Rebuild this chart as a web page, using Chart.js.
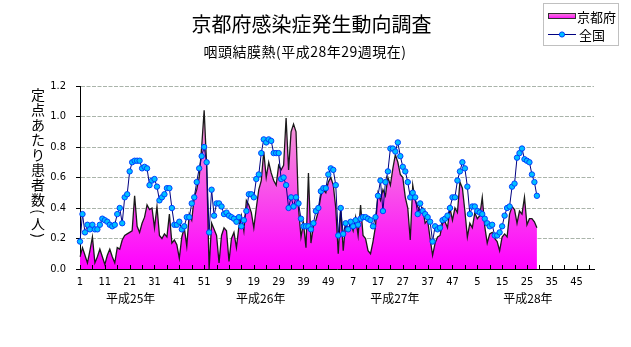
<!DOCTYPE html>
<html lang="ja">
<head>
<meta charset="utf-8">
<title>京都府感染症発生動向調査</title>
<script src="https://cdn.jsdelivr.net/npm/chart.js@4.4.0/dist/chart.umd.min.js"></script>
<style>
  html, body { margin: 0; padding: 0; background: #fff; }
  #wrap { width: 631px; height: 347px; }
</style>
</head>
<body>
<div id="wrap"><canvas id="chart" width="631" height="347"></canvas></div>
<script>
// Axis: four years of 52 weeks each (H25 - H28)
const years = ['平成25年', '平成26年', '平成27年', '平成28年'];
const weeksPerYear = 52;

// Kyoto prefecture, cases per sentinel site (area)
const kyoto2013 = [0.08, 0.14, 0.09, 0.04, 0.12, 0.21, 0.04, 0.08, 0.13, 0.08,
  0.03, 0.09, 0.13, 0.08, 0.04, 0.14, 0.13, 0.19, 0.22, 0.23,
  0.24, 0.25, 0.48, 0.28, 0.24, 0.30, 0.34, 0.42, 0.39, 0.40,
  0.27, 0.41, 0.22, 0.20, 0.23, 0.21, 0.36, 0.17, 0.19, 0.16,
  0.07, 0.21, 0.27, 0.15, 0.36, 0.32, 0.47, 0.52, 0.60, 0.80,
  1.04, 0.68];
const kyoto2014 = [0.00, 0.30, 0.26, 0.22, 0.04, 0.22, 0.27, 0.25, 0.05, 0.20,
  0.24, 0.14, 0.28, 0.35, 0.25, 0.45, 0.42, 0.37, 0.27, 0.40,
  0.52, 0.58, 0.77, 0.60, 0.70, 0.63, 0.58, 0.55, 0.68, 0.65,
  0.68, 0.99, 0.65, 0.90, 0.95, 0.90, 0.40, 0.21, 0.30, 0.14,
  0.63, 0.17, 0.28, 0.32, 0.38, 0.48, 0.52, 0.50, 0.57, 0.60,
  0.55, 0.40];
const kyoto2015 = [0.10, 0.40, 0.12, 0.30, 0.26, 0.30, 0.25, 0.34, 0.22, 0.42,
  0.22, 0.20, 0.12, 0.10, 0.18, 0.28, 0.50, 0.45, 0.52, 0.48,
  0.60, 0.55, 0.66, 0.75, 0.70, 0.62, 0.60, 0.47, 0.40, 0.19,
  0.55, 0.45, 0.41, 0.38, 0.40, 0.30, 0.32, 0.20, 0.09, 0.17,
  0.21, 0.22, 0.30, 0.31, 0.27, 0.40, 0.32, 0.40, 0.37, 0.57,
  0.53, 0.38];
const kyoto2016 = [0.21, 0.30, 0.27, 0.37, 0.33, 0.35, 0.47, 0.28, 0.17, 0.23,
  0.24, 0.20, 0.18, 0.12, 0.21, 0.23, 0.21, 0.36, 0.41, 0.39,
  0.30, 0.38, 0.36, 0.47, 0.29, 0.33, 0.33, 0.31, 0.27];

// Whole country (line with markers)
const national2013 = [0.18, 0.36, 0.24, 0.29, 0.26, 0.29, 0.26, 0.26, 0.29, 0.33,
  0.32, 0.31, 0.29, 0.28, 0.29, 0.36, 0.40, 0.30, 0.47, 0.49,
  0.64, 0.70, 0.71, 0.71, 0.71, 0.66, 0.67, 0.66, 0.55, 0.58,
  0.59, 0.54, 0.45, 0.47, 0.49, 0.53, 0.53, 0.40, 0.29, 0.29,
  0.31, 0.26, 0.28, 0.34, 0.34, 0.43, 0.47, 0.57, 0.66, 0.74,
  0.80, 0.70];
const national2014 = [0.24, 0.52, 0.35, 0.43, 0.43, 0.41, 0.36, 0.37, 0.35, 0.34,
  0.33, 0.31, 0.34, 0.28, 0.32, 0.38, 0.49, 0.49, 0.47, 0.59,
  0.62, 0.76, 0.85, 0.83, 0.85, 0.84, 0.76, 0.76, 0.76, 0.59,
  0.60, 0.55, 0.40, 0.47, 0.41, 0.47, 0.43, 0.33, 0.28, 0.28,
  0.28, 0.26, 0.30, 0.38, 0.40, 0.51, 0.53, 0.53, 0.62, 0.66,
  0.65, 0.55];
const national2015 = [0.22, 0.40, 0.23, 0.30, 0.26, 0.31, 0.28, 0.32, 0.29, 0.33,
  0.34, 0.34, 0.33, 0.32, 0.28, 0.34, 0.48, 0.58, 0.38, 0.57,
  0.64, 0.79, 0.79, 0.77, 0.83, 0.74, 0.67, 0.64, 0.57, 0.47,
  0.50, 0.47, 0.36, 0.43, 0.38, 0.36, 0.34, 0.31, 0.18, 0.28,
  0.26, 0.27, 0.32, 0.33, 0.35, 0.40, 0.47, 0.47, 0.58, 0.64,
  0.70, 0.66];
const national2016 = [0.54, 0.36, 0.41, 0.41, 0.38, 0.37, 0.36, 0.33, 0.30, 0.28,
  0.29, 0.22, 0.22, 0.24, 0.28, 0.35, 0.40, 0.41, 0.54, 0.56,
  0.73, 0.76, 0.79, 0.72, 0.71, 0.70, 0.62, 0.57, 0.48];

const yTicks = [0, 0.2, 0.4, 0.6, 0.8, 1.0, 1.2];

const kyoto = [...kyoto2013, ...kyoto2014, ...kyoto2015, ...kyoto2016];
const national = [...national2013, ...national2014, ...national2015, ...national2016];

// week number labels: 1..52 per year
const weekLabels = [];
years.forEach(() => {
  for (let w = 1; w <= weeksPerYear; w++) weekLabels.push(String(w));
});

const JP_FONT = '"Noto Sans CJK JP", "Noto Sans", sans-serif';
const NUM_FONT = '"Liberation Sans Narrow", "DejaVu Sans Condensed", "Liberation Sans", sans-serif';

// where the year names sit under the axis (category index)
const yearLabelAt = [20.4, 72.8, 126.8, 180.4];

const decor = {
  id: 'decor',
  afterDatasetsDraw(chart) {
    // small tick marks pointing into the plot, every 5 weeks
    const { ctx, chartArea } = chart;
    const x = chart.scales.x;
    ctx.save();
    ctx.strokeStyle = '#000';
    ctx.lineWidth = 1;
    ctx.beginPath();
    for (let i = 0; i < weekLabels.length; i += 5) {
      const px = Math.round(x.getPixelForValue(i)) + 0.5;
      ctx.moveTo(px, chartArea.bottom);
      ctx.lineTo(px, chartArea.bottom - 4);
    }
    ctx.stroke();
    ctx.restore();
  },
  afterDraw(chart) {
    const { ctx } = chart;
    const x = chart.scales.x;
    ctx.save();
    ctx.fillStyle = '#000';
    ctx.textAlign = 'center';
    ctx.textBaseline = 'middle';

    // title + subtitle
    ctx.font = '20px ' + JP_FONT;
    ctx.fillText('京都府感染症発生動向調査', 311.5, 24);
    ctx.font = '14px ' + JP_FONT;
    if ('letterSpacing' in ctx) ctx.letterSpacing = '0.5px';
    ctx.fillText('咽頭結膜熱(平成28年29週現在)', 305, 52);
    if ('letterSpacing' in ctx) ctx.letterSpacing = '0px';

    // year names under the week numbers
    ctx.font = '12px ' + JP_FONT;
    years.forEach((name, k) => {
      ctx.fillText(name, x.getPixelForValue(yearLabelAt[k]), 298);
    });

    // vertical y axis title, upright characters
    ctx.font = '14px ' + JP_FONT;
    let cur = 87;
    for (const ch of '定点あたり患者数(人)') {
      const paren = ch === '(' || ch === ')';
      const h = paren ? 9 : 15;
      const cy = cur + h / 2;
      if (paren) {
        ctx.save();
        ctx.translate(38, cy);
        ctx.rotate(Math.PI / 2);
        ctx.fillText(ch, 0, 0);
        ctx.restore();
      } else {
        ctx.fillText(ch, 38, cy);
      }
      cur += h;
    }

    // legend box
    ctx.strokeStyle = '#808080';
    ctx.lineWidth = 1;
    ctx.setLineDash([1, 1]);
    ctx.strokeRect(543.5, 3.5, 75, 42);
    ctx.setLineDash([]);

    const sw = ctx.createLinearGradient(0, 13, 0, 19);
    sw.addColorStop(0, '#f590d8');
    sw.addColorStop(1, '#ff00ff');
    ctx.fillStyle = sw;
    ctx.fillRect(548, 13, 28, 6);
    ctx.strokeStyle = '#303030';
    ctx.strokeRect(548.5, 13.5, 27, 5);

    ctx.strokeStyle = '#000080';
    ctx.beginPath();
    ctx.moveTo(548, 34.5);
    ctx.lineTo(576, 34.5);
    ctx.stroke();
    ctx.beginPath();
    ctx.arc(562, 34.5, 2.6, 0, Math.PI * 2);
    ctx.fillStyle = '#00c0ff';
    ctx.fill();
    ctx.strokeStyle = '#0040ff';
    ctx.stroke();

    ctx.fillStyle = '#000';
    ctx.textAlign = 'left';
    ctx.font = '13px ' + JP_FONT;
    ctx.fillText('京都府', 577, 17);
    ctx.fillText('全国', 579, 35);
    ctx.restore();
  }
};

function areaFill(context) {
  const { chart } = context;
  const area = chart.chartArea;
  if (!area) return '#ff00ff';
  const top = chart.scales.y.getPixelForValue(Math.max(...kyoto));
  const g = chart.ctx.createLinearGradient(0, top, 0, area.bottom);
  g.addColorStop(0, '#f2a4d4');
  g.addColorStop(1, '#ff00ff');
  return g;
}

new Chart(document.getElementById('chart'), {
  type: 'line',
  data: {
    labels: weekLabels,
    datasets: [
      {
        label: '全国',
        data: national,
        borderColor: '#000080',
        borderWidth: 1,
        pointRadius: 2.7,
        pointBackgroundColor: '#00c0ff',
        pointBorderColor: '#0040ff',
        pointBorderWidth: 1,
        fill: false,
        tension: 0,
        order: 1
      },
      {
        label: '京都府',
        data: kyoto,
        borderColor: '#1a1a1a',
        borderWidth: 1.3,
        pointRadius: 0,
        fill: 'origin',
        backgroundColor: areaFill,
        tension: 0,
        order: 2
      }
    ]
  },
  options: {
    responsive: false,
    animation: false,
    events: [],
    layout: { padding: { left: 0, right: 37, top: 86, bottom: 0 } },
    plugins: {
      legend: { display: false },
      tooltip: { enabled: false },
      title: { display: false }
    },
    scales: {
      x: {
        type: 'category',
        afterFit(scale) { scale.height = 78; },
        grid: { display: false, drawTicks: false },
        border: { display: true, color: '#000', width: 1 },
        ticks: {
          autoSkip: false,
          maxRotation: 0,
          minRotation: 0,
          padding: 7,
          color: '#000',
          font: { size: 11, family: NUM_FONT },
          callback(value, index) {
            return index % 10 === 0 ? this.getLabelForValue(value) : null;
          }
        }
      },
      y: {
        min: yTicks[0],
        max: yTicks[yTicks.length - 1],
        afterFit(scale) { scale.width = 80; },
        afterBuildTicks(scale) { scale.ticks = yTicks.map(v => ({ value: v })); },
        ticks: {
          padding: 10,
          color: '#000',
          font: { size: 11, family: NUM_FONT },
          callback: v => v.toFixed(1)
        },
        grid: {
          color: c => (c.tick && c.tick.value === 0 ? 'rgba(0,0,0,0)' : '#aab4aa'),
          lineWidth: 1,
          tickLength: 4,
          tickColor: '#000',
          tickBorderDash: []
        },
        border: { display: true, color: '#000', width: 1, dash: [4, 1.5] }
      }
    }
  },
  plugins: [decor]
});
</script>
</body>
</html>
